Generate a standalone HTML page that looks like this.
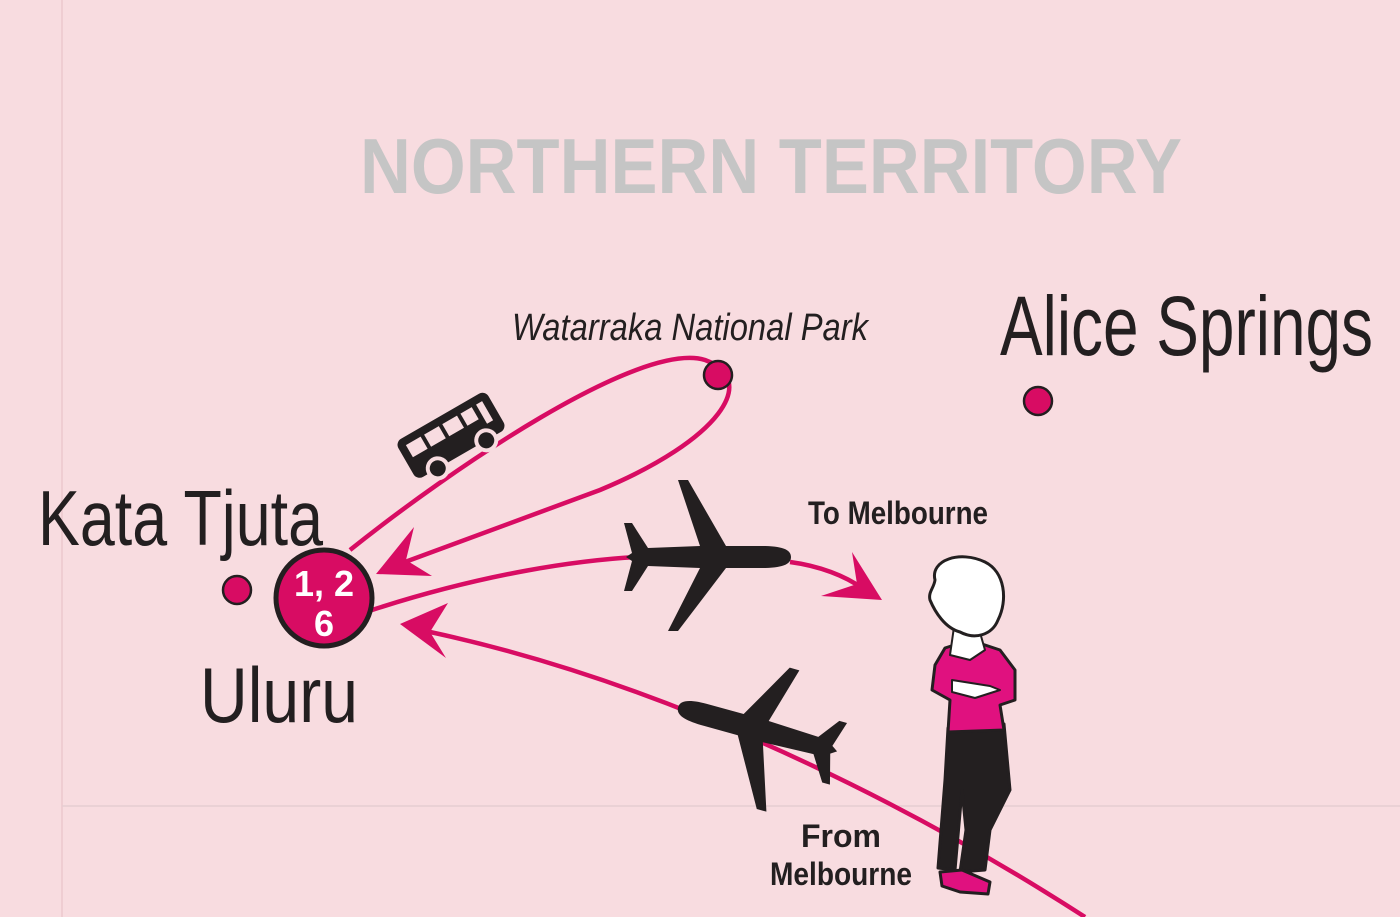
<!DOCTYPE html>
<html><head><meta charset="utf-8"><style>
html,body{margin:0;padding:0;background:#f8dce0}
svg{display:block}
</style></head><body>
<svg width="1400" height="917" viewBox="0 0 1400 917" xmlns="http://www.w3.org/2000/svg">
<rect width="1400" height="917" fill="#f8dce0"/>
<line x1="62" y1="0" x2="62" y2="917" stroke="#ecc8ce" stroke-width="1.5"/>
<line x1="62" y1="806" x2="1400" y2="806" stroke="#e6cdd1" stroke-width="1.5"/>
<text x="360" y="193" font-family="Liberation Sans, sans-serif" font-weight="bold" font-size="78" fill="#c5c5c5" textLength="822" lengthAdjust="spacingAndGlyphs">NORTHERN TERRITORY</text>
<g fill="none" stroke="#d80c63" stroke-width="4.5">
<path d="M350,550 C450,470 640,340 705,360 C760,380 720,440 600,490 C520,520 450,545 405,562"/>
<path d="M372,610 C480,575 580,558 660,556 M790,562 C820,566 845,576 862,588"/>
<path d="M1085,917 C950,830 700,690 430,632"/>
</g>
<g fill="#d80c63">
<path d="M376,574 L414,527 L406,560 L432,576 Z"/>
<path d="M882,600 L852,552 L857,584 L821,596 Z"/>
<path d="M400,624 L448,603 L430,632 L446,658 Z"/>
</g>
<g fill="#231f20">
<g transform="translate(706,557)">
<path d="M85,0 C85,-8 75,-11 55,-11 L20,-11 L-18,-77 L-28,-77 L-6,-11 L-58,-9 L-74,-34 L-82,-34 L-74,-4 L-80,0 L-74,4 L-82,34 L-74,34 L-58,9 L-6,11 L-38,74 L-28,74 L20,11 L55,11 C75,11 85,8 85,0 Z"/>
</g>
<g transform="translate(760,730) rotate(195.5)">
<path d="M85,0 C85,-8 75,-11 55,-11 L20,-11 L-18,-77 L-28,-77 L-6,-11 L-58,-9 L-74,-34 L-82,-34 L-74,-4 L-80,0 L-74,4 L-82,30 L-74,30 L-58,9 L-6,11 L-22,68 L-12,68 L20,11 L55,11 C75,11 85,8 85,0 Z"/>
</g>
<g transform="translate(452,437) rotate(-30)">
<rect x="-52" y="-24" width="104" height="44" rx="7"/>
<g fill="#f8dce0">
<rect x="-44" y="-16" width="17" height="14"/><rect x="-23" y="-16" width="17" height="14"/><rect x="-2" y="-16" width="17" height="14"/><rect x="19" y="-16" width="13" height="14"/><rect x="37" y="-16" width="7" height="22"/>
<circle cx="-28" cy="20" r="12"/><circle cx="28" cy="20" r="12"/>
</g>
<circle cx="-28" cy="20" r="8"/><circle cx="28" cy="20" r="8"/>
</g>
</g>
<g stroke="#231f20" stroke-width="2.5" fill="#d80c63">
<circle cx="718" cy="375" r="14"/>
<circle cx="1038" cy="401" r="14"/>
<circle cx="237" cy="590" r="14"/>
<circle cx="324" cy="598" r="48" stroke-width="5"/>
</g>
<g font-family="Liberation Sans, sans-serif" font-weight="bold" fill="#fff" text-anchor="middle">
<text x="324" y="596" font-size="36">1, 2</text>
<text x="324" y="636" font-size="36">6</text>
</g>
<g font-family="Liberation Sans, sans-serif" fill="#231f20">
<text x="512" y="340" font-size="38" font-style="italic" textLength="356" lengthAdjust="spacingAndGlyphs">Watarraka National Park</text>
<text x="1000" y="355" font-size="84" textLength="373" lengthAdjust="spacingAndGlyphs">Alice Springs</text>
<text x="38" y="545" font-size="78" textLength="285" lengthAdjust="spacingAndGlyphs">Kata Tjuta</text>
<text x="200" y="722" font-size="78" textLength="158" lengthAdjust="spacingAndGlyphs">Uluru</text>
<text x="808" y="524" font-size="32" font-weight="bold" textLength="180" lengthAdjust="spacingAndGlyphs">To Melbourne</text>
<text x="841" y="847" font-size="32" font-weight="bold" text-anchor="middle">From</text>
<text x="841" y="885" font-size="32" font-weight="bold" text-anchor="middle" textLength="142" lengthAdjust="spacingAndGlyphs">Melbourne</text>
</g>
<g stroke="#231f20" stroke-width="3" stroke-linejoin="round">
<path d="M948,728 L1004,724 L1010,790 L990,830 L985,870 L960,872 L966,830 L962,790 L955,870 L938,868 L945,780 Z" fill="#231f20"/>
<path d="M940,872 L962,870 L990,882 L988,894 L960,892 L942,886 Z" fill="#e0117f"/>
<path d="M945,648 L970,640 L1000,650 L1015,670 L1015,700 L1000,705 L1004,730 L948,732 L950,700 L932,690 L935,665 Z" fill="#e0117f"/>
<path d="M952,680 L990,686 L1000,690 L975,698 L952,692 Z" fill="#fff" stroke-width="2"/>
<path d="M950,655 L970,660 L985,650 L975,615 L955,620 Z" fill="#fff" stroke-width="2"/>
<path d="M935,580 C930,560 960,550 985,562 C1005,572 1008,600 998,620 C992,635 975,640 960,632 C945,628 935,612 930,600 C928,592 934,588 935,580 Z" fill="#fff"/>
</g>
</svg>
</body></html>
